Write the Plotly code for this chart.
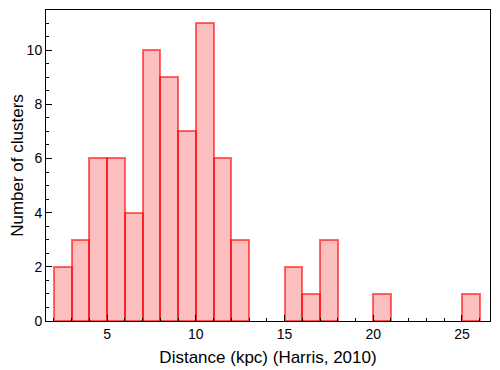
import plotly.graph_objects as go

# histogram of cluster distances, bins of 1 kpc
bin_start = [2, 3, 4, 5, 6, 7, 8, 9, 10, 11, 12, 15, 16, 17, 20, 25]
counts = [2, 3, 6, 6, 4, 10, 9, 7, 11, 6, 3, 2, 1, 3, 1, 1]
bin_width = 1

centers = [b + bin_width / 2 for b in bin_start]

fig = go.Figure()
fig.add_trace(go.Bar(
    x=centers,
    y=counts,
    width=bin_width,
    marker=dict(color='rgba(245,0,0,0.25)',
                line=dict(color='rgba(255,0,0,0.58)', width=2)),
    showlegend=False,
))

# the page body adds 8px margin, so the figure is a bit smaller than the window
axis_font = dict(family='Liberation Sans, Arial, sans-serif', size=14, color='black')
fig.update_layout(
    width=492, height=362,
    margin=dict(l=38, r=10, t=2, b=49),
    plot_bgcolor='white', paper_bgcolor='white',
    font=axis_font,
    bargap=0,
)
fig.update_xaxes(
    range=[1.56, 26.58], tickvals=[5, 10, 15, 20, 25],
    ticks='inside', ticklen=6, tickcolor='black',
    minor=dict(dtick=1, ticks='inside', ticklen=3, tickcolor='black'),
    showline=True, linecolor='black', linewidth=1, mirror=True,
    showgrid=False, zeroline=False, automargin=False,
    title=dict(text='Distance (kpc) (Harris, 2010)', standoff=10),
)
fig.update_yaxes(
    range=[0, 11.48], tickvals=[0, 2, 4, 6, 8, 10],
    ticks='inside', ticklen=6, tickcolor='black',
    minor=dict(dtick=0.5, ticks='inside', ticklen=3, tickcolor='black'),
    showline=True, linecolor='black', linewidth=1, mirror=True,
    showgrid=False, zeroline=False, automargin=False,
    title=dict(text='Number of clusters', standoff=14),
)

fig.write_html("out.html")
